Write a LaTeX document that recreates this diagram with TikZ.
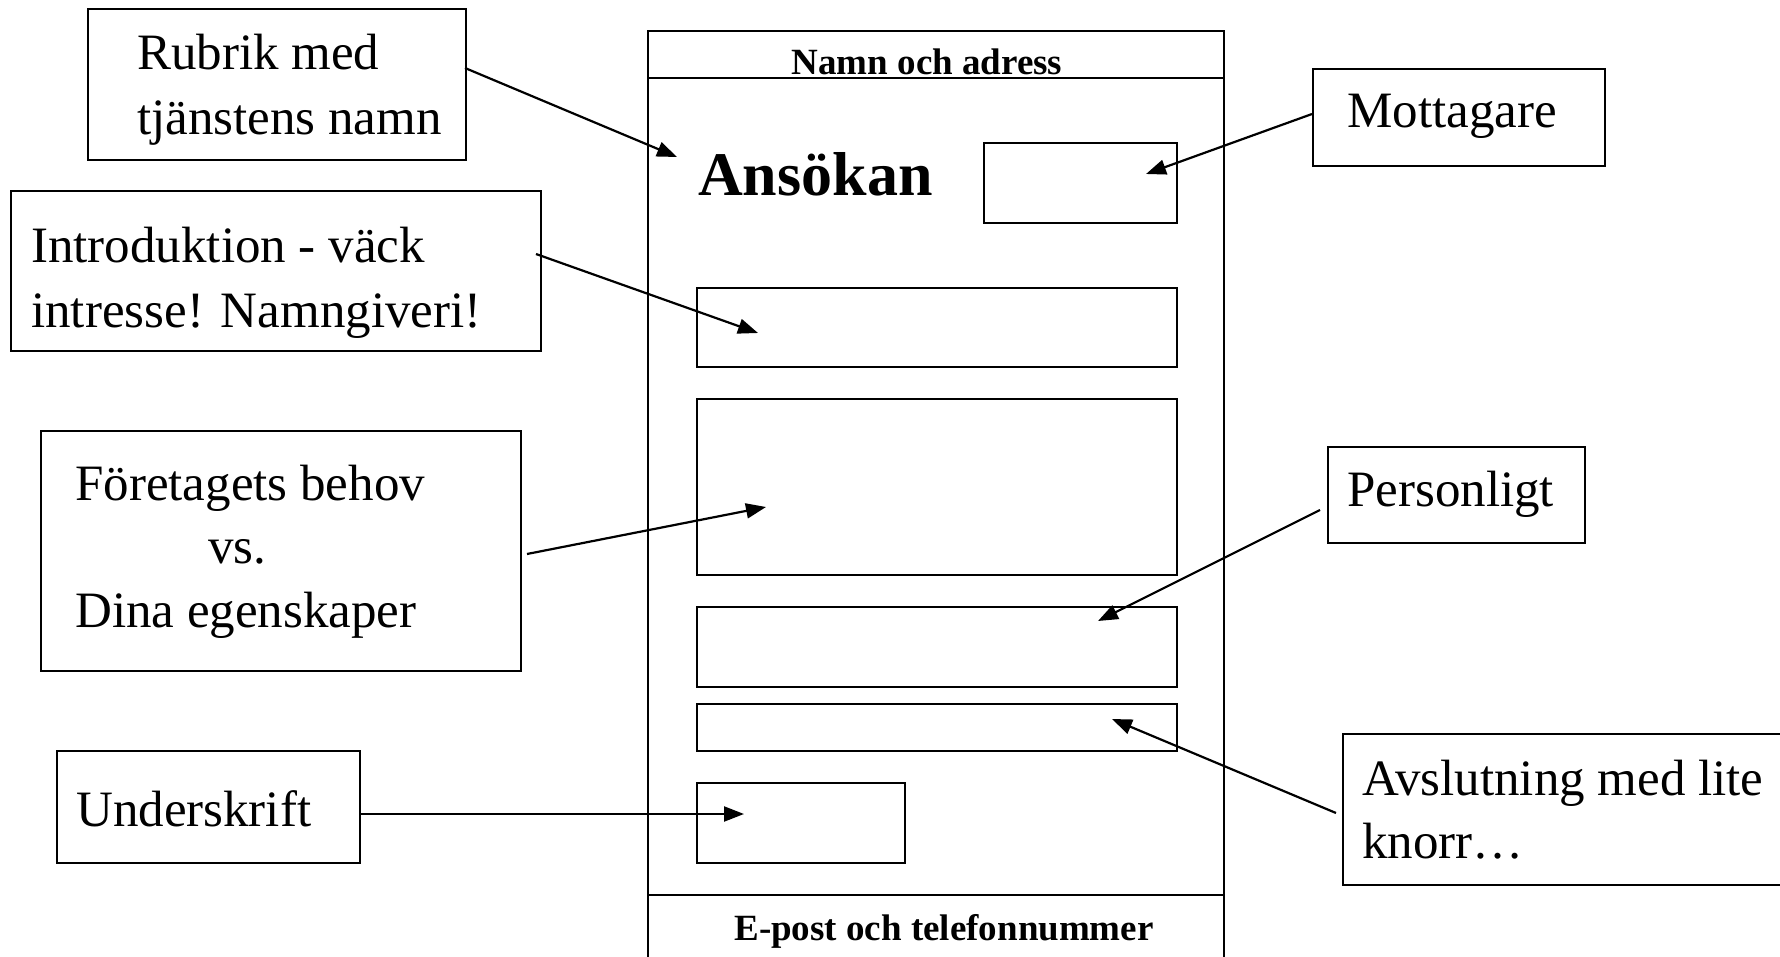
\documentclass[tikz,border=0pt]{standalone}
\usepackage{fontspec}
\setmainfont{Liberation Serif}
\usetikzlibrary{arrows.meta}
\begin{document}
\begin{tikzpicture}[x=1pt,y=-1pt,
  box/.style={draw, line width=2.2pt, inner sep=0pt, anchor=north west},
  lbl/.style={anchor=base west, inner sep=0pt, font=\fontsize{51}{62}\selectfont},
  hdr/.style={anchor=base, inner sep=0pt, font=\fontsize{37}{44}\selectfont\bfseries},
  arr/.style={line width=2.2pt, -{Triangle[length=20pt,width=15pt]}}]
\useasboundingbox (0,0) rectangle (1780,957);
\clip (0,0) rectangle (1780,957);
\fill[white] (0,0) rectangle (1780,957);
% page
\draw[line width=2.2pt] (648,975) -- (648,31) -- (1224,31) -- (1224,975);
\draw[line width=2.2pt] (648,78) -- (1224,78);
\draw[line width=2.2pt] (648,895) -- (1224,895);
\node[hdr] (namn) at (927,75) {Namn och adress};
\node[hdr] (epost) at (944,940) {E-post och telefonnummer};
\node[anchor=base west, inner sep=0pt, font=\fontsize{62}{70}\selectfont\bfseries] (ansokan) at (698,196) {Ansökan};
% inner boxes
\node[box, minimum width=193pt, minimum height=80pt] (mbox) at (983,142) {};
\node[box, minimum width=480pt, minimum height=79pt] (b1) at (696,287) {};
\node[box, minimum width=480pt, minimum height=176pt] (b2) at (696,398) {};
\node[box, minimum width=480pt, minimum height=80pt] (b3) at (696,606) {};
\node[box, minimum width=480pt, minimum height=47pt] (b4) at (696,703) {};
\node[box, minimum width=208pt, minimum height=80pt] (b5) at (696,782) {};
% label boxes
\node[box, minimum width=378pt, minimum height=151pt] (rubrik) at (87,8) {};
\node[lbl] (rubrikA) at (137,70) {Rubrik med};
\node[lbl] (rubrikB) at (137,135) {tjänstens namn};
\node[box, minimum width=530pt, minimum height=160pt] (intro) at (10,190) {};
\node[lbl] (introA) at (31,263) {Introduktion - väck};
\node[lbl] (introB) at (31,328) {intresse! Namngiveri!};
\node[box, minimum width=480pt, minimum height=240pt] (foret) at (40,430) {};
\node[lbl] (foretA) at (75,500) {Företagets behov};
\node[lbl] (foretB) at (208,563) {vs.};
\node[lbl] (foretC) at (75,627) {Dina egenskaper};
\node[box, minimum width=303pt, minimum height=112pt] (unders) at (56,750) {};
\node[lbl] (undersA) at (76,826) {Underskrift};
\node[box, minimum width=292pt, minimum height=97pt] (mott) at (1312,68) {};
\node[lbl] (mottA) at (1347,128) {Mottagare};
\node[box, minimum width=257pt, minimum height=96pt] (pers) at (1327,446) {};
\node[lbl] (persA) at (1347,506) {Personligt};
\node[box, minimum width=460pt, minimum height=151pt] (avsl) at (1342,733) {};
\node[lbl] (avslA) at (1362,795) {Avslutning med lite};
\node[lbl] (avslB) at (1362,858) {knorr…};
% connector ends
\coordinate (s1) at (465,68);   \coordinate (t1) at (677,157);
\coordinate (s2) at (536,254);  \coordinate (t2) at (758,333);
\coordinate (s3) at (527,554);  \coordinate (t3) at (766,507);
\coordinate (s4) at (359,814);  \coordinate (t4) at (744,814);
\coordinate (s5) at (1312,114); \coordinate (t5) at (1146,174);
\coordinate (s6) at (1320,510); \coordinate (t6) at (1098,621);
\coordinate (s7) at (1336,813); \coordinate (t7) at (1112,719);
\draw[arr] (s1) -- (t1);
\draw[arr] (s2) -- (t2);
\draw[arr] (s3) -- (t3);
\draw[arr] (s4) -- (t4);
\draw[arr] (s5) -- (t5);
\draw[arr] (s6) -- (t6);
\draw[arr] (s7) -- (t7);
\end{tikzpicture}
\end{document}
